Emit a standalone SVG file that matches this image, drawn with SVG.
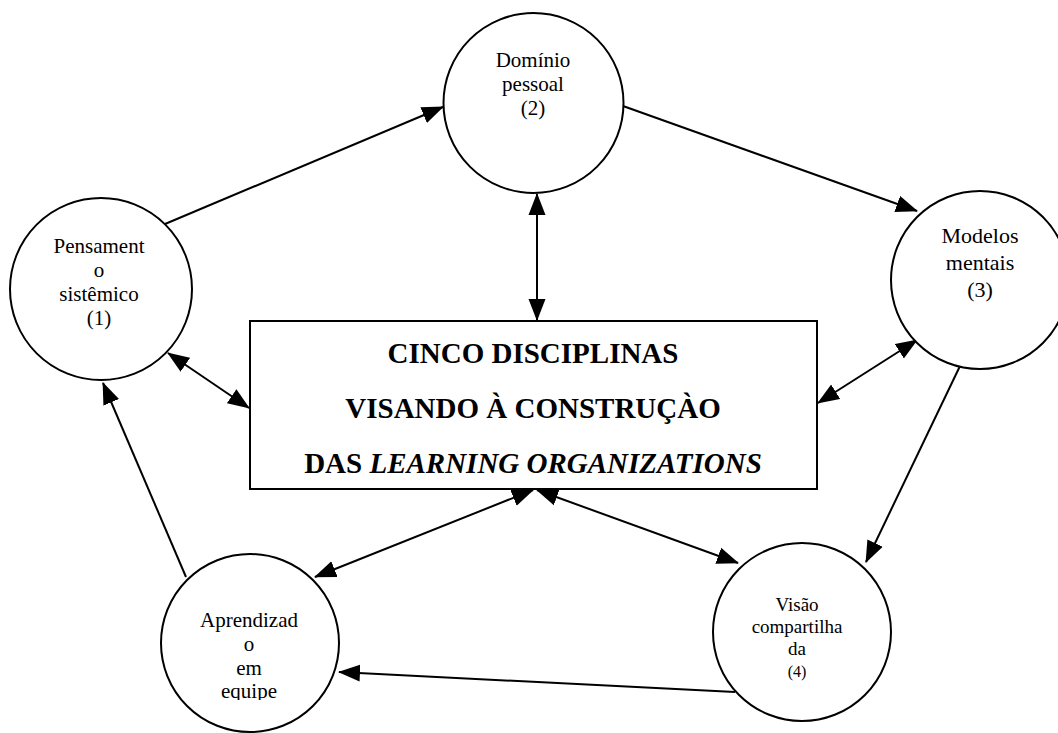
<svg xmlns="http://www.w3.org/2000/svg" width="1058" height="733" viewBox="0 0 1058 733" font-family="Liberation Serif, Times New Roman, serif">
<style>
.c{fill:#fff;stroke:#000;stroke-width:2}
.t{fill:#000;text-anchor:middle}
.ln{stroke:#000;stroke-width:2;fill:none}
.b{font-weight:bold;font-size:29px}
</style>
<defs>
<marker id="ah" markerUnits="userSpaceOnUse" markerWidth="22" markerHeight="18" refX="21" refY="8.5" orient="auto-start-reverse" viewBox="0 0 22 17">
<path d="M0,0 L22,8.5 L0,17 z" fill="#000"/>
</marker>
<clipPath id="clipA"><rect x="150" y="590" width="200" height="110"/></clipPath>
</defs>
<g id="connectors">
<line class="ln" x1="165" y1="224" x2="443" y2="107" marker-end="url(#ah)"/>
<line class="ln" x1="623" y1="106" x2="917" y2="211" marker-end="url(#ah)"/>
<line class="ln" x1="537" y1="194" x2="537" y2="320" marker-start="url(#ah)" marker-end="url(#ah)"/>
<line class="ln" x1="168" y1="353" x2="249" y2="408" marker-start="url(#ah)" marker-end="url(#ah)"/>
<line class="ln" x1="917" y1="340" x2="818" y2="403" marker-start="url(#ah)" marker-end="url(#ah)"/>
<line class="ln" x1="960" y1="366" x2="866" y2="562" marker-end="url(#ah)"/>
<line class="ln" x1="533" y1="490" x2="315" y2="577" marker-start="url(#ah)" marker-end="url(#ah)"/>
<line class="ln" x1="537" y1="490" x2="738" y2="563" marker-start="url(#ah)" marker-end="url(#ah)"/>
<line class="ln" x1="735" y1="692" x2="339" y2="672" marker-end="url(#ah)"/>
<line class="ln" x1="186" y1="577" x2="103" y2="383" marker-end="url(#ah)"/>
</g>
<g id="node-pensamento">
<circle class="c" cx="101" cy="289" r="91"/>
<text class="t" font-size="21" x="99" y="253">Pensament</text>
<text class="t" font-size="21" x="99" y="277">o</text>
<text class="t" font-size="21" x="99" y="301">sistêmico</text>
<text class="t" font-size="21" x="99" y="325">(1)</text>
</g>
<g id="node-dominio">
<circle class="c" cx="533.5" cy="103" r="90"/>
<text class="t" font-size="21" x="533" y="67">Domínio</text>
<text class="t" font-size="21" x="533" y="91">pessoal</text>
<text class="t" font-size="21" x="533" y="115">(2)</text>
</g>
<g id="node-modelos">
<circle class="c" cx="980" cy="280" r="89"/>
<text class="t" font-size="22" x="980" y="243">Modelos</text>
<text class="t" font-size="22" x="980" y="270">mentais</text>
<text class="t" font-size="22" x="980" y="297">(3)</text>
</g>
<g id="node-box">
<rect x="250" y="321" width="567" height="168" fill="#fff" stroke="#000" stroke-width="2"/>
<text class="t b" x="533" y="363">CINCO DISCIPLINAS</text>
<text class="t b" x="533" y="418">VISANDO À CONSTRUÇÀO</text>
<text class="t b" x="533" y="473">DAS <tspan font-style="italic">LEARNING ORGANIZATIONS</tspan></text>
</g>
<g id="node-visao">
<circle class="c" cx="802" cy="632" r="89"/>
<text class="t" font-size="19" x="797" y="611">Visão</text>
<text class="t" font-size="19" x="797" y="633">compartilha</text>
<text class="t" font-size="19" x="797" y="655">da</text>
<text class="t" font-size="16" x="797" y="677">(4)</text>
</g>
<g id="node-aprendizado">
<circle class="c" cx="250" cy="643" r="89"/>
<g clip-path="url(#clipA)">
<text class="t" font-size="21" x="249" y="627">Aprendizad</text>
<text class="t" font-size="21" x="249" y="651">o</text>
<text class="t" font-size="21" x="249" y="675">em</text>
<text class="t" font-size="21" x="249" y="698">equipe</text>
</g>
</g>
</svg>
